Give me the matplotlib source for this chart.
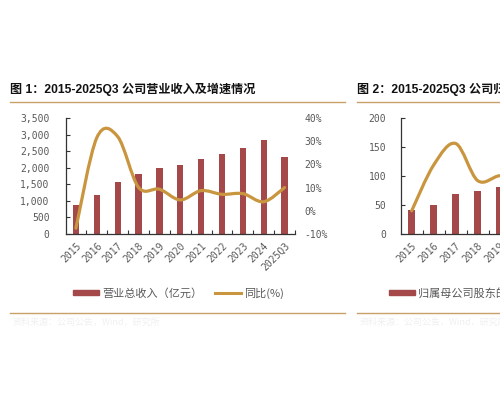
import numpy as np
import matplotlib.pyplot as plt
from matplotlib.path import Path
from matplotlib.patches import PathPatch, Patch
from matplotlib.lines import Line2D

# data
years = ['2015', '2016', '2017', '2018', '2019', '2020', '2021', '2022', '2023', '2024', '2025Q3']
revenue = [890, 1190, 1580, 1820, 2000, 2090, 2270, 2420, 2600, 2850, 2330]          # 亿元
revenue_yoy = [-7.5, 31.5, 32.0, 10.1, 9.3, 4.7, 8.7, 7.1, 7.4, 3.9, 10.0]           # %
# chart 2 is cut off at the right edge, values after 2019 are estimates
profit = [42, 50.6, 69.5, 74.7, 81.6, 86, 93, 100, 107, 115, 92]                      # 亿元
profit_yoy = [-4.0, 27.6, 42.4, 16.8, 20.2, 19.0, 9.0, 8.0, 8.0, 6.0, 5.0]            # %

bar_color = '#a5484a'
line_color = '#c9963f'
rule_color = '#c9a06a'
text_gray = '#595959'
cjk = ['Noto Sans CJK SC', 'DejaVu Sans']

plt.rcParams['font.family'] = ['DejaVu Sans Mono', 'Noto Sans CJK SC']


def smooth_path(xs, ys):
    # Excel-like smoothed line: Catmull-Rom turned into cubic bezier segments
    pts = np.column_stack([xs, ys]).astype(float)
    ext = np.vstack([pts[0], pts, pts[-1]])
    verts = [pts[0]]
    codes = [Path.MOVETO]
    for i in range(len(pts) - 1):
        p0, p1, p2, p3 = ext[i], ext[i + 1], ext[i + 2], ext[i + 3]
        verts += [p1 + (p2 - p0) / 6, p2 - (p3 - p1) / 6, p2]
        codes += [Path.CURVE4] * 3
    return Path(verts, codes)


def draw_chart(rect, bars, yoy, ylim, yticks, yfmt, y2lim, y2ticks, pad_left, show_right):
    ax = fig.add_axes(rect)
    x = np.arange(len(years))
    ax.bar(x, bars, width=0.3, color=bar_color, zorder=2)
    ax.set_xlim(-0.5, len(years) - 0.5)
    ax.set_ylim(*ylim)
    ax.set_yticks(yticks)
    ax.set_yticklabels([yfmt(v) for v in yticks])
    ax.set_xticks(x)
    ax.set_xticklabels(years, rotation=45, ha='right', rotation_mode='anchor')
    ax.set_xticks(np.arange(len(years)) + 0.5, minor=True)
    ax.tick_params(axis='x', which='major', length=0, pad=5, labelsize=7, labelcolor=text_gray)
    ax.tick_params(axis='x', which='minor', direction='in', length=3, width=0.8, color='#333333')
    ax.tick_params(axis='y', direction='in', length=3, width=0.8, color='#333333',
                   pad=pad_left, labelsize=7, labelcolor=text_gray)
    for s in ['top', 'right']:
        ax.spines[s].set_visible(False)
    for s in ['left', 'bottom']:
        ax.spines[s].set_color('#333333')
        ax.spines[s].set_linewidth(0.9)

    ax2 = ax.twinx()
    ax2.set_ylim(*y2lim)
    ax2.set_xlim(ax.get_xlim())
    for s in ax2.spines.values():
        s.set_visible(False)
    if show_right:
        ax2.set_yticks(y2ticks)
        ax2.set_yticklabels(['%d%%' % v for v in y2ticks])
        ax2.tick_params(axis='y', length=0, pad=7, labelsize=7, labelcolor=text_gray)
    else:
        ax2.set_yticks([])
    ax2.add_patch(PathPatch(smooth_path(x, yoy), facecolor='none', edgecolor=line_color,
                            lw=2.3, capstyle='round', zorder=3))
    return ax


fig = plt.figure(figsize=(5, 4), dpi=100)
title_font = ['Liberation Sans', 'Noto Sans CJK SC']

# chart 1
draw_chart([0.131, 0.415, 0.459, 0.29], revenue, revenue_yoy, (0, 3500),
           list(range(0, 3501, 500)), lambda v: f'{v:,}', (-10, 40),
           list(range(-10, 41, 10)), 11.5, True)
fig.text(0.02, 0.776, '图 1：2015-2025Q3 公司营业收入及增速情况', fontsize=8.7, weight='bold',
         family=title_font, va='center', color='#111111')
fig.legend([Patch(color=bar_color), Line2D([], [], color=line_color, lw=2.2)],
           ['营业总收入（亿元）', '同比(%)'], loc='center left', bbox_to_anchor=(0.135, 0.2675),
           ncol=2, frameon=False, borderpad=0, handlelength=2.3, handleheight=0.4,
           handletextpad=0.3, columnspacing=1.2, prop={'family': cjk, 'size': 8},
           labelcolor=text_gray)

# chart 2 (runs off the right edge)
draw_chart([0.8014, 0.415, 0.484, 0.29], profit, profit_yoy, (0, 200),
           list(range(0, 201, 50)), lambda v: f'{v}', (-20, 60),
           list(range(-20, 61, 20)), 10.5, False)
fig.text(0.714, 0.776, '图 2：2015-2025Q3 公司归母净利润及增速情况', fontsize=8.7, weight='bold',
         family=title_font, va='center', color='#111111')
fig.legend([Patch(color=bar_color), Line2D([], [], color=line_color, lw=2.2)],
           ['归属母公司股东的净利润（亿元）', '同比(%)'], loc='center left',
           bbox_to_anchor=(0.767, 0.2675), ncol=2, frameon=False, borderpad=0,
           handlelength=2.3, handleheight=0.4, handletextpad=0.3, columnspacing=1.2,
           prop={'family': cjk, 'size': 8}, labelcolor=text_gray)

# decorative rules above and below each chart
for x0, x1 in [(0.02, 0.69), (0.714, 1.0)]:
    for y in (0.745, 0.2175):
        fig.add_artist(Line2D([x0, x1], [y, y], transform=fig.transFigure, color=rule_color, lw=1))

# faint source notes
fig.text(0.025, 0.195, '资料来源：公司公告，Wind，研究所', fontsize=6.5, family=cjk,
         color='#f0f0f0', va='center')
fig.text(0.72, 0.195, '资料来源：公司公告，Wind，研究所', fontsize=6.5, family=cjk,
         color='#f0f0f0', va='center')

fig.savefig('out.png', dpi=100)
